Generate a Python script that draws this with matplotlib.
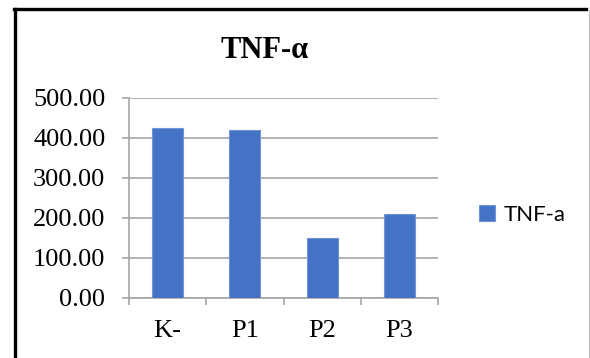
import matplotlib
matplotlib.use("Agg")
import matplotlib.pyplot as plt
from matplotlib.lines import Line2D
from matplotlib.ticker import FixedLocator

categories = ["K-", "P1", "P2", "P3"]
values = [424, 420, 151, 209]
yticks = [0, 100, 200, 300, 400, 500]
series_name = "TNF-a"
title = "TNF-\u03b1"

BLUE = "#4472C4"
GRID = "#A6A6A6"
W, H = 590, 358

fig = plt.figure(figsize=(W / 100, H / 100), dpi=100)
ax = fig.add_axes([129 / W, 1 - 298 / H, (438 - 129) / W, (298 - 98) / H])

x = list(range(len(categories)))
bars = ax.bar(x, values, width=0.4, color=BLUE, edgecolor="#6F95D8",
              linewidth=0.8, label=series_name, zorder=3)

ax.set_xlim(-0.5, len(categories) - 0.5)
ax.set_ylim(0, 500)
ax.set_yticks(yticks)
ax.set_yticklabels([f"{v:.2f}" for v in yticks])
ax.set_xticks(x)
ax.set_xticklabels(categories)
ax.xaxis.set_minor_locator(FixedLocator([i - 0.5 for i in range(len(categories) + 1)]))

ax.grid(axis="y", color=GRID, linewidth=1.2, zorder=0)
ax.set_axisbelow(True)
for s in ("top", "right"):
    ax.spines[s].set_visible(False)
for s in ("left", "bottom"):
    ax.spines[s].set_color(GRID)
    ax.spines[s].set_linewidth(1.2)

serif = "Liberation Serif"
ax.tick_params(axis="y", which="major", length=5, width=1.2, color=GRID, pad=12,
               labelsize=19, labelfontfamily=serif)
ax.tick_params(axis="x", which="major", length=0, pad=16,
               labelsize=19, labelfontfamily=serif)
ax.tick_params(axis="x", which="minor", length=5, width=1.2, color=GRID)

fig.text(265 / W, 1 - 58 / H, title, ha="center", va="baseline",
         fontsize=22, fontweight="bold", family=serif)

ax.legend(loc="center left", bbox_to_anchor=(479 / W, 1 - 215 / H),
          bbox_transform=fig.transFigure, frameon=False, borderpad=0,
          borderaxespad=0, handlelength=0.7, handleheight=0.7,
          handletextpad=0.4, prop={"family": "Lato", "size": 16})

# outer frame (black on top/left, thin grey on right)
fig.add_artist(Line2D([13.5 / W, 586 / W], [1 - 8.5 / H, 1 - 8.5 / H],
                      color="black", linewidth=2.4, transform=fig.transFigure))
fig.add_artist(Line2D([14.5 / W, 14.5 / W], [0, 1 - 8.5 / H],
                      color="black", linewidth=2.4, transform=fig.transFigure))
fig.add_artist(Line2D([589 / W, 589 / W], [0, 1 - 10 / H],
                      color="#BFBFBF", linewidth=0.8, transform=fig.transFigure))

fig.savefig("out.png", dpi=100)
